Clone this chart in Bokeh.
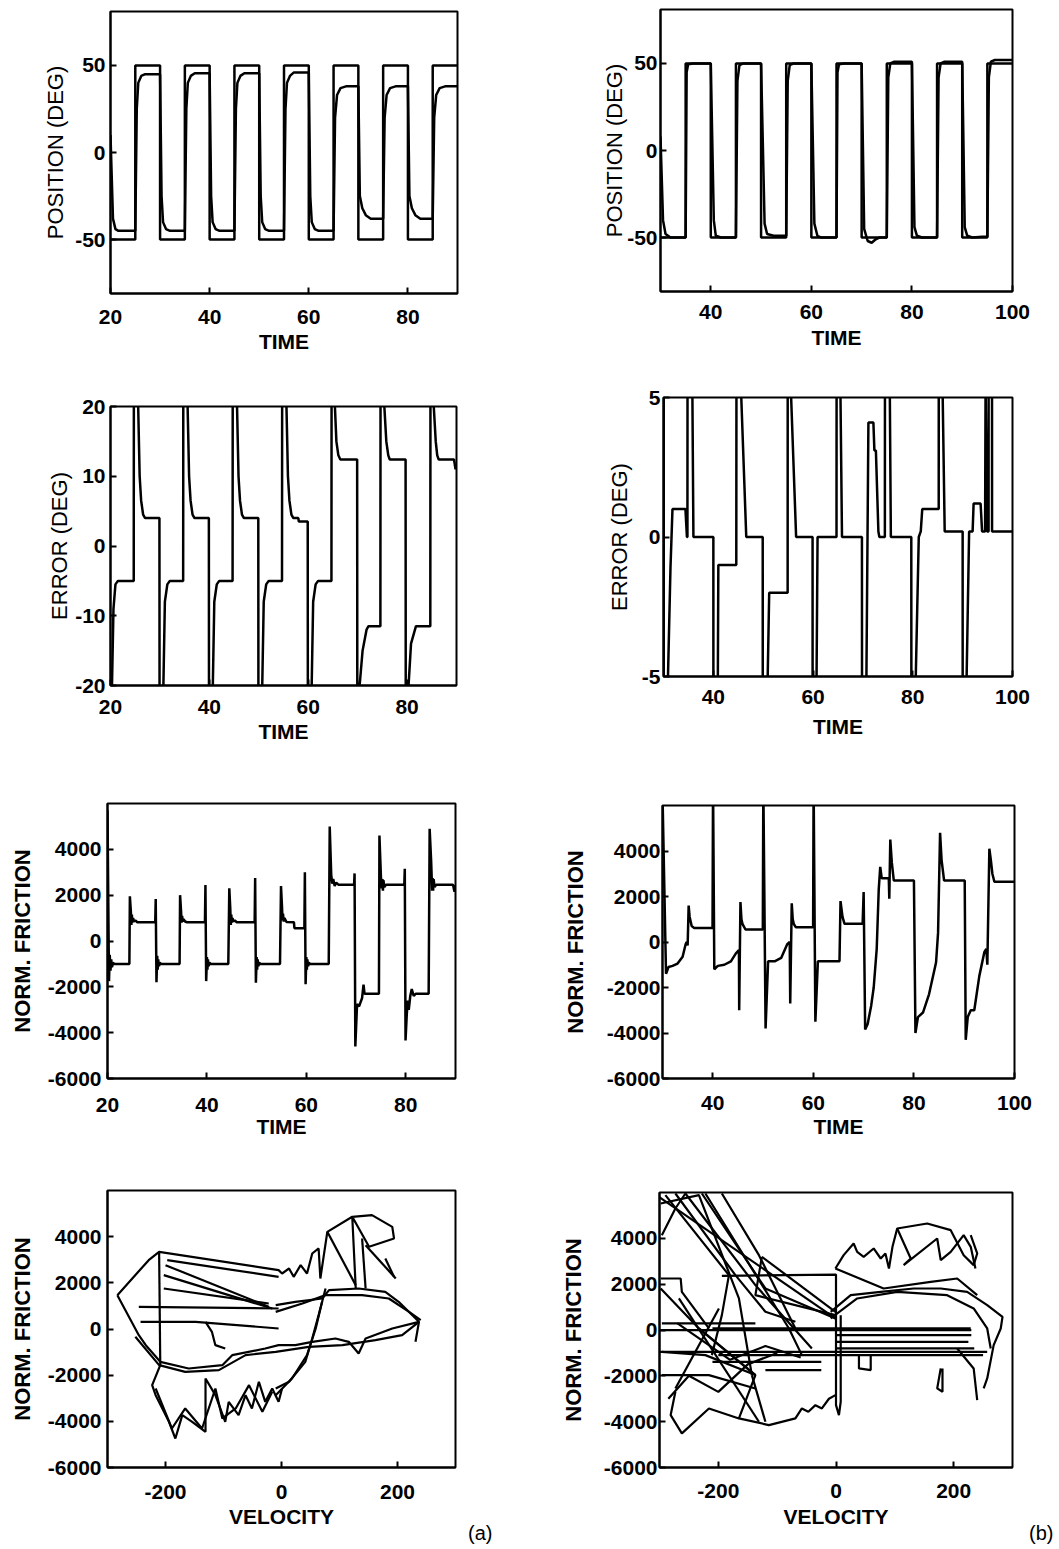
from bokeh.plotting import figure
from bokeh.layouts import column, row
from bokeh.models import FixedTicker, Title
from bokeh.embed import file_html
from bokeh.resources import INLINE

FONT = "Liberation Sans"

# ---------------- data ----------------
# (a) position: reference square wave and response
ta_ref = [20, 25, 25, 30, 30, 35, 35, 40, 40, 45, 45, 50, 50, 55, 55, 60, 60, 65, 65, 70, 70, 75, 75, 80, 80, 85, 85, 90]
pa_ref = [-50, -50, 50, 50, -50, -50, 50, 50, -50, -50, 50, 50, -50, -50, 50, 50, -50, -50, 50, 50, -50, -50, 50, 50, -50, -50, 50, 50]
ta_pos = [20.0, 20.5, 21.0, 21.6,
          25.0, 25.3, 25.6, 26.2, 27.0, 30.0, 30.3, 30.6, 31.2, 32.0,
          35.0, 35.3, 35.6, 36.2, 37.0, 40.0, 40.3, 40.6, 41.2, 42.0,
          45.0, 45.3, 45.6, 46.2, 47.0, 50.0, 50.3, 50.6, 51.2, 52.0,
          55.0, 55.3, 55.6, 56.2, 57.0, 60.0, 60.3, 60.6, 61.2, 62.0,
          65.0, 65.3, 65.7, 66.4, 67.5, 70.0, 70.3, 70.8, 71.5, 72.5,
          75.0, 75.3, 75.7, 76.4, 77.5, 80.0, 80.3, 80.8, 81.5, 82.5,
          85.0, 85.3, 85.7, 86.4, 87.5, 90.0]
pa_pos = [10, -38, -44, -45,
          -45, 25, 40, 44, 45, 45, -25, -40, -44, -45,
          -45, 25, 40, 44, 45.5, 45.5, -25, -40, -44, -45,
          -45, 25, 40, 44, 45.5, 45.5, -25, -40, -44, -45,
          -45, 25, 40, 44, 46, 46, -25, -40, -44, -45,
          -45, 20, 33, 37, 38, 38, -25, -32, -36, -38,
          -38, 20, 33, 37, 38, 38, -25, -32, -36, -38,
          -38, 20, 33, 37, 38, 38]

# (b) position
tb_ref = [30, 35, 35, 40, 40, 45, 45, 50, 50, 55, 55, 60, 60, 65, 65, 70, 70, 75, 75, 80, 80, 85, 85, 90, 90, 95, 95, 100]
pb_ref = [-50, -50, 50, 50, -50, -50, 50, 50, -50, -50, 50, 50, -50, -50, 50, 50, -50, -50, 50, 50, -50, -50, 50, 50, -50, -50, 50, 50]
tb_pos = [30.0, 30.5, 31.0, 32.0,
          35.0, 35.2, 35.5, 36.5, 40.0, 40.6, 41.0, 42.0,
          45.0, 45.3, 45.7, 46.5, 50.0, 50.7, 51.2, 52.5,
          55.0, 55.3, 55.7, 56.5, 60.0, 60.6, 61.2, 62.0,
          65.0, 65.2, 65.5, 66.5, 70.0, 70.5, 71.2, 72.0, 72.8, 73.5,
          75.0, 75.3, 75.7, 76.5, 80.0, 80.5, 81.0, 82.0,
          85.0, 85.3, 85.7, 86.5, 90.0, 90.5, 91.0, 92.0, 94.0,
          95.0, 95.3, 95.7, 96.5, 100.0]
pb_pos = [8, -40, -48, -50,
          -50, 45, 49.5, 50, 50, -40, -49, -50,
          -50, 40, 49, 50, 50, -42, -48, -49,
          -49, 40, 49, 50, 50, -42, -49, -50,
          -50, 45, 49.5, 50, 50, -45, -52, -53, -51, -50,
          -50, 42, 50, 51, 51, -44, -49, -50,
          -50, 42, 50, 51, 51, -44, -49, -50, -49.5,
          -49.5, 42, 51, 52, 52]

# (a) error
tea = [20.0, 20.3, 20.6, 21.0, 21.5,
       24.7, 24.8, 25.3, 25.6, 25.9, 26.2, 26.6, 27.0,
       29.9, 30.0, 30.5, 30.7, 31.0, 31.5, 32.0,
       34.7, 34.8, 35.3, 35.6, 35.9, 36.2, 36.6, 37.0,
       39.9, 40.0, 40.5, 40.7, 41.0, 41.5, 42.0,
       44.7, 44.8, 45.3, 45.6, 45.9, 46.2, 46.6, 47.0,
       49.9, 50.0, 50.5, 50.7, 51.0, 51.5, 52.0,
       54.7, 54.8, 55.3, 55.6, 55.9, 56.2, 56.6, 57.0, 58.0, 58.1,
       59.9, 60.0, 60.5, 60.7, 61.0, 61.5, 62.0,
       64.7, 64.8, 65.1, 65.4, 65.7, 66.1, 66.5,
       69.9, 70.0, 70.2, 70.4, 71.0, 71.8, 72.2,
       74.6, 74.7, 75.1, 75.4, 75.8, 76.2, 76.5,
       79.7, 79.8, 80.0, 80.3, 80.8, 81.2, 81.8,
       84.7, 84.8, 85.1, 85.4, 85.8, 86.1, 86.4,
       89.5, 89.8, 90.0]
ea = [-95, -20, -9, -5.5, -5,
      -5, 95, 95, 20, 10, 6.5, 4.5, 4,
      4, -95, -95, -20, -8, -5.5, -5,
      -5, 95, 95, 20, 10, 6.5, 4.5, 4,
      4, -95, -95, -20, -8, -5.5, -5,
      -5, 95, 95, 20, 10, 6.5, 4.5, 4,
      4, -95, -95, -20, -8, -5.5, -5,
      -5, 95, 95, 20, 10, 6.5, 4.5, 4, 4, 3.5,
      3.5, -95, -95, -20, -8, -5.5, -5,
      -5, 95, 95, 20, 15, 13, 12.4,
      12.4, -95, -95, -20, -15, -12, -11.5,
      -11.5, 95, 95, 20, 15, 13, 12.4,
      12.4, -95, -95, -20, -14, -13, -11.5,
      -11.5, 95, 95, 20, 15, 13, 12.4,
      12.4, 11.0, 11.5]

# (b) error
teb = [30.0, 30.1, 30.7, 30.9, 31.4, 31.8, 34.4, 34.7, 34.8, 35.0, 35.6, 35.8, 36.0,
       40.0, 40.1, 40.7, 40.9, 41.0, 44.6, 44.9, 45.4, 45.6, 46.6,
       49.9, 50.0, 50.7, 50.9, 51.2, 54.9, 55.0, 55.5, 55.6, 56.6,
       59.9, 60.0, 60.6, 60.7, 60.9, 64.7, 64.9, 65.4, 65.5, 65.8,
       69.8, 70.0, 70.6, 70.7, 71.1, 72.1, 72.3, 72.6, 73.1, 73.3, 74.4, 74.6, 75.2, 75.4, 75.6,
       79.7, 79.9, 80.5, 80.6, 81.2, 81.6, 81.9, 85.2, 85.3, 85.8, 86.0, 86.4,
       90.0, 90.1, 90.7, 90.8, 91.3, 92.0, 92.2, 93.6, 93.9, 94.5, 94.6, 94.9, 95.2, 95.3, 95.8, 95.9, 100.0]
eb = [60, -60, -60, -5, -1.1, 1.0, 1.0, 0.0, 0.0, 60, 60, 5, 0.0,
      0.0, -60, -60, -5, -1.0, -1.0, 60, 60, 5, 0.0,
      0.0, -60, -60, -5, -2.0, -2.0, 60, 60, 5, 0.0,
      0.0, -60, -60, -5, 0.0, 0.0, 60, 60, 5, 0.0,
      0.0, -60, -60, -5, 4.1, 4.1, 3.1, 3.1, 0.2, 0.0, 0.0, 60, 60, 5, 0.0,
      0.0, -60, -60, -5, 0.0, 0.2, 1.0, 1.0, 60, 60, 5, 0.2,
      0.2, -60, -60, -5, 0.2, 0.2, 1.2, 1.2, 0.2, 0.2, 5.5, 0.2, 0.2, 60, 60, 0.2, 0.2]

# (a) normalized friction vs time
tfa = [20.0, 20.3, 20.45, 20.6, 20.75, 20.9, 21.1, 21.4, 24.4,
       24.5, 24.7, 24.8, 24.9, 25.0, 25.15, 25.3, 25.6, 26.0, 29.6, 29.7, 29.85,
       30.0, 30.1, 30.2, 30.35, 30.5, 30.8, 34.5,
       34.6, 34.8, 34.9, 35.0, 35.15, 35.3, 35.6, 36.0, 39.6, 39.7, 39.85,
       40.0, 40.1, 40.2, 40.35, 40.5, 40.8, 44.3,
       44.5, 44.7, 44.8, 44.9, 45.0, 45.15, 45.3, 45.6, 46.0, 49.6, 49.7, 49.85,
       50.0, 50.1, 50.2, 50.35, 50.5, 50.8, 54.7,
       54.9, 55.1, 55.2, 55.3, 55.45, 55.6, 56.0, 57.5, 57.6, 59.6, 59.7, 59.85,
       60.0, 60.1, 60.2, 60.35, 60.5, 60.8, 64.5,
       64.7, 65.0, 65.2, 65.4, 65.7, 66.0, 66.5, 69.6, 69.7, 69.85,
       70.2, 70.6, 71.2, 71.5, 71.7, 74.6,
       74.7, 75.0, 75.2, 75.3, 75.4, 75.5, 75.7, 76.0, 79.7, 79.8, 79.95,
       80.2, 80.4, 80.6, 80.9, 81.2, 81.6, 82.0, 84.6,
       84.8, 85.1, 85.3, 85.4, 85.5, 85.6, 85.8, 86.1, 89.5, 89.8, 90.0]
fa = [5700, -1750, -600, -1300, -800, -1150, -950, -1000, -1000,
      1950, 1300, 700, 1150, 800, 1000, 850, 900, 820, 820, 1830, -1800,
      -650, -1250, -800, -1100, -950, -1000, -1000,
      2000, 1300, 800, 1100, 850, 950, 850, 820, 820, 2440, -1750,
      -700, -1250, -800, -1100, -950, -1000, -1000,
      2300, 1400, 700, 1150, 800, 1000, 850, 900, 820, 820, 2750, -1820,
      -700, -1250, -800, -1100, -950, -1000, -1000,
      2400, 1500, 900, 1200, 850, 1000, 830, 820, 560, 560, 3000, -1890,
      -700, -1250, -800, -1100, -950, -1000, -1000,
      5000, 2900, 2500, 2700, 2400, 2550, 2450, 2450, 2950, -4600,
      -2750, -2850, -2500, -1900, -2300, -2300,
      4600, 2800, 2300, 2700, 2200, 2650, 2350, 2450, 2450, 3150, -4340,
      -3200, -2600, -3000, -2400, -2100, -2400, -2300, -2300,
      4900, 3500, 2200, 2750, 2200, 2700, 2350, 2450, 2450, 2150, 2450]

# (b) normalized friction vs time
tfb = [30.0, 30.7, 31.2, 32.0, 33.0, 34.0, 34.6, 34.8, 35.0, 35.2, 35.4, 35.6, 35.8, 36.3, 39.95,
       40.05, 40.3, 41.0, 42.3, 43.6, 44.6, 45.2, 45.25, 45.5, 45.7, 45.9, 46.5, 49.95,
       50.05, 50.5, 51.0, 52.3, 53.6, 54.8, 55.3, 55.4, 55.7, 55.9, 56.1, 56.5, 59.95,
       60.05, 60.4, 60.9, 65.2, 65.4, 65.8, 66.2, 69.8,
       70.0, 70.3, 70.8, 71.5, 72.0, 72.6, 73.0, 73.3, 73.6, 75.0, 75.1, 75.3, 75.6, 76.0, 80.0,
       80.3, 80.8, 81.8, 83.0, 84.4, 84.8, 85.2, 85.5, 86.0, 90.1,
       90.3, 90.7, 91.3, 92.0, 93.0, 94.0, 94.4, 94.6, 95.0, 95.3, 95.6, 96.0, 100.0]
fb = [6500, -1400, -1100, -1050, -950, -650, -100, 0, -150, 1600, 1100, 900, 700, 620, 620,
      7000, -1200, -1050, -1000, -850, -500, -350, -3000, 1760, 1000, 800, 550, 550,
      7000, -3800, -850, -850, -700, -100, 0, -2700, 1700, 1000, 800, 650, 650,
      7000, -3500, -850, -850, 1800, 1100, 800, 800,
      2200, -3850, -3600, -2800, -2000, -300, 2300, 3300, 2800, 2800, 1900, 4500, 3500, 2700, 2700,
      -4000, -3300, -3100, -2300, -900, 400, 4800, 3600, 2700, 2700,
      -4300, -3300, -3000, -3000, -1500, -450, -300, -1000, 4100, 3600, 3000, 2650, 2650]

# (a) friction vs velocity (traced strokes)
va_strokes = [
    [-283, -229, -211, -5, 1, 13, 21, 33, 44, 53, 64, 67, 79, 122, 156, 191, 194, 151, 122, 128],
    [79, 128], [139, 145], [145, 197], [179, 194],
    [-197, -5], [-200, -22], [-203, -16], [-203, -22], [-246, -5], [-243, -148, -5],
    [-211, -209],
    [-283, -246, -234, -209, -160, -102, -85, -28, -5, 24, 53, 93, 116, 133, 145, 191, 237],
    [-252, -211, -166, -108, -62, -10, 47, 105, 162, 208, 237],
    [-10, 24, 70, 82, 133, 179, 202, 237, 231],
    [-10, 36, 76, 139, 185, 220, 240],
    [-10, 13, 41, 53, 64, 76],
    [-10, 18, 44, 59, 70],
    [-209, -223, -217, -194, -183, -171, -154, -131, -131, -114, -97, -91, -74, -62, -51, -39, -28, -16, -5, 1],
    [-217, -189, -166, -137, -114, -102, -79, -56, -33, -16],
    [-131, -120, -114, -97],
]
fa_strokes = [
    [1466, 2982, 3343, 2549, 2405, 2621, 2260, 2766, 2405, 3271, 3488, 2188, 4210, 4860, 4932, 4426, 3921, 3560, 4860, 1755],
    [4210, 1899], [3921, 1755], [3632, 2188], [3055, 2260],
    [2982, 2260], [2766, 961], [2333, 889], [1755, 1105], [961, 889], [311, 311, 22],
    [3343, -1566],
    [1466, -267, -700, -1422, -1711, -1566, -1133, -844, -700, -700, -555, -411, -555, -1061, -411, 22, 311],
    [-339, -1566, -1855, -1783, -1133, -989, -772, -700, -484, -267, 311],
    [1033, 1178, 1322, 1683, 1755, 1611, 1178, 311, -555],
    [744, 1105, 1466, 1466, 1322, 744, 383],
    [-2577, -2288, -1422, -411, 600, 1755],
    [-2866, -2144, -1133, 22, 1178],
    [-1566, -2432, -2866, -4021, -4743, -3732, -4021, -4454, -2144, -2866, -4021, -3155, -3732, -2866, -3443, -2288, -3155, -2577, -3155, -2577],
    [-2577, -4310, -3443, -4310, -2577, -3876, -3443, -2432, -3588, -2722],
    [311, -122, -700, -844],
]

# (b) friction vs velocity (traced strokes)
vb_strokes = [
    [-301, -1], [-273, -171, -120, -69], [-256, -137, -41], [-228, -120, -1],
    [-222, -80, -58], [-194, -131, -69], [-296, -273, -256], [-298, -233, -165, -143],
    [-290, -182, -194, -211], [-126, -137, -1], [-126, -1],
    [-194, 0, 0, 5, 8, 8],
    [-298, -264, -262, -216],
    [-298, -233, -137], [-267, -131], [-233, -137, -165], [-199, -273], [-143, -120],
    [-296, -216, -137], [-296, -222, -137],
    [-273, -281, -262, -216, -165, -114, -69, -58, -47, -35, -24, -12, -1],
    [-296, -137], [-210, 229], [-300, 230], [-300, 257], [-200, 250], [-210, -25], [-120, -25],
    [0, 230], [0, 225], [0, 235],
    [-1, 13, 30, 36, 47, 64, 76, 84, 90, 96, 104, 155, 195, 217, 234, 240, 229],
    [104, 127, 115, 172, 178, 195, 217, 229, 237],
    [-1, 81, 161, 206, 240],
    [-9, 25, 76, 132, 178, 223, 257, 283, 280, 268, 257, 251],
    [-9, 36, 104, 189, 234, 257, 263],
    [39, 39, 59, 59], [178, 172, 181, 181], [206, 234, 240],
    [-285, -250, -200, -150, -100], [-270, -180, -120, -60],
]
fb_strokes = [
    [5810, 504], [5956, 2394, 794, 358], [5956, 1958, -805], [5956, 1812, 504],
    [5956, 67, -1096], [5956, 3266, 67], [4138, 5302, 5956], [5520, 5883, 1376, -1968],
    [5883, 2394, 649, -1096], [3193, 1521, 649], [3193, 794],
    [2365, 2420, -3277, -3713, -3131, 649],
    [2248, 2248, 1667, 67],
    [1812, 67, -1968], [1376, -4004], [67, -1968, -3859], [940, -2550], [-1968, -4004],
    [-1968, -1968, -2550], [-951, -1096, -1968],
    [-2695, -3713, -4513, -3423, -3859, -4149, -3859, -3423, -3570, -3280, -3423, -3000, -2841],
    [286, 286], [67, 67], [-5, -5], [-951, -951], [-1096, -1096], [-1387, -1387], [-1750, -1750],
    [-224, -224], [-515, -515], [-806, -806],
    [2684, 3266, 3775, 3411, 3193, 3557, 3120, 3339, 2684, 3630, 4429, 4647, 4357, 3266, 2830, 3339, 4138],
    [4429, 3120, 2830, 3993, 3048, 3411, 4138, 3630, 2684],
    [2684, 1812, 2103, 2248, 1521],
    [794, 1521, 1667, 1812, 1812, 1667, 1085, 576, 67, -660, -2114, -2550],
    [504, 1376, 1667, 1521, 940, 67, -806],
    [-1096, -1677, -1750, -1096], [-1677, -2550, -2695, -1677], [-806, -1677, -3059],
    [-3000, -2000, -2700, -1500, -1000], [300, -1300, -700, -1200],
]

time_a_ticks = [20, 40, 60, 80]
time_b_ticks = [40, 60, 80, 100]
pos_ticks = [-50, 0, 50]
err_a_ticks = [-20, -10, 0, 10, 20]
err_b_ticks = [-5, 0, 5]
fric_ticks = [-6000, -4000, -2000, 0, 2000, 4000]
vel_ticks = [-200, 0, 200]


def make(xr, yr, xt, yt, xlabel, ylabel, ybold, box, xstand, ystand):
    bl, fw, br, bt, fh, bb = box
    p = figure(frame_width=fw, frame_height=fh, x_range=xr, y_range=yr,
               output_backend="svg", toolbar_location=None,
               min_border_left=bl, min_border_right=br,
               min_border_top=bt, min_border_bottom=bb)
    p.frame_align = False
    p.xgrid.visible = False
    p.ygrid.visible = False
    p.outline_line_color = "black"
    p.outline_line_width = 2
    p.outline_line_alpha = 1.0
    xa = p.xaxis[0]
    ya = p.yaxis[0]
    xa.ticker = FixedTicker(ticks=xt)
    ya.ticker = FixedTicker(ticks=yt)
    xa.major_label_overrides = {t: str(t) for t in xt}
    ya.major_label_overrides = {t: str(t) for t in yt}
    for ax in (xa, ya):
        ax.major_tick_in = 6
        ax.major_tick_out = 0
        ax.minor_tick_line_color = None
        ax.axis_line_color = "black"
        ax.axis_line_width = 2
        ax.major_tick_line_width = 2
        ax.major_label_text_font = FONT
        ax.major_label_text_font_style = "bold"
        ax.major_label_text_font_size = "21px"
        ax.major_label_text_color = "black"
        ax.axis_label_text_font = FONT
        ax.axis_label_text_color = "black"
    xa.major_label_standoff = xstand[0]
    xa.axis_label_standoff = xstand[1]
    ya.major_label_standoff = ystand[0]
    ya.axis_label_standoff = ystand[1]
    xa.axis_label = xlabel
    ya.axis_label = ylabel
    xa.axis_label_text_font_size = "21px"
    xa.axis_label_text_font_style = "bold"
    ya.axis_label_text_font_size = "22px"
    ya.axis_label_text_font_style = "bold" if ybold else "normal"
    return p


LW = 2.5

p1 = make((20, 90), (-81, 81), time_a_ticks, pos_ticks, "TIME", "POSITION (DEG)", False,
          (110, 347, 73, 11, 282, 92), (16, 3), (5, 4))
p1.line(ta_ref, pa_ref, line_color="black", line_width=LW)
p1.line(ta_pos, pa_pos, line_color="black", line_width=LW)

p2 = make((30, 100), (-81, 81), time_b_ticks, pos_ticks, "TIME", "POSITION (DEG)", False,
          (130, 352, 47, 9, 282, 94), (13, 4), (3, -3))
p2.line(tb_ref, pb_ref, line_color="black", line_width=LW)
p2.line(tb_pos, pb_pos, line_color="black", line_width=LW)

p3 = make((20, 90), (-20, 20), time_a_ticks, err_a_ticks, "TIME", "ERROR (DEG)", False,
          (110, 346, 74, 21, 279, 100), (14, 3), (5, 0))
p3.line(tea, ea, line_color="black", line_width=LW)

p4 = make((30, 100), (-5, 5), time_b_ticks, err_b_ticks, "TIME", "ERROR (DEG)", False,
          (133, 349, 47, 12, 279, 109), (13, 8), (3, 7))
p4.line(teb, eb, line_color="black", line_width=LW)

p5 = make((20, 90), (-6000, 6000), time_a_ticks, fric_ticks, "TIME", "NORM. FRICTION", True,
          (107, 348, 75, 18, 275, 97), (19, 0), (6, 10))
p5.line(tfa, fa, line_color="black", line_width=LW)

p6 = make((30, 100), (-6000, 6000), time_b_ticks, fric_ticks, "TIME", "NORM. FRICTION", True,
          (132, 352, 45, 20, 273, 97), (17, 2), (2, 16))
p6.line(tfb, fb, line_color="black", line_width=LW)

p7 = make((-300, 300), (-6000, 6000), vel_ticks, fric_ticks, "VELOCITY", "NORM. FRICTION", True,
          (107, 348, 75, 15, 277, 82), (17, 3), (6, 10))
p7.multi_line(va_strokes, fa_strokes, line_color="black", line_width=2.2)
p7.add_layout(Title(text="(a)", align="right", offset=-37, standoff=-21, text_font=FONT,
                    text_font_size="20px", text_font_style="normal", text_color="black"), "below")

p8 = make((-300, 300), (-6000, 6000), vel_ticks, fric_ticks, "VELOCITY", "NORM. FRICTION", True,
          (129, 353, 47, 17, 275, 82), (16, 4), (2, 15))
p8.multi_line(vb_strokes, fb_strokes, line_color="black", line_width=2.2)
p8.add_layout(Title(text="(b)", align="right", offset=-41, standoff=-21, text_font=FONT,
                    text_font_size="20px", text_font_style="normal", text_color="black"), "below")

layout = column(row(p1, p2), row(p3, p4), row(p5, p6), row(p7, p8))

open("out.html", "w").write(file_html(layout, INLINE))
